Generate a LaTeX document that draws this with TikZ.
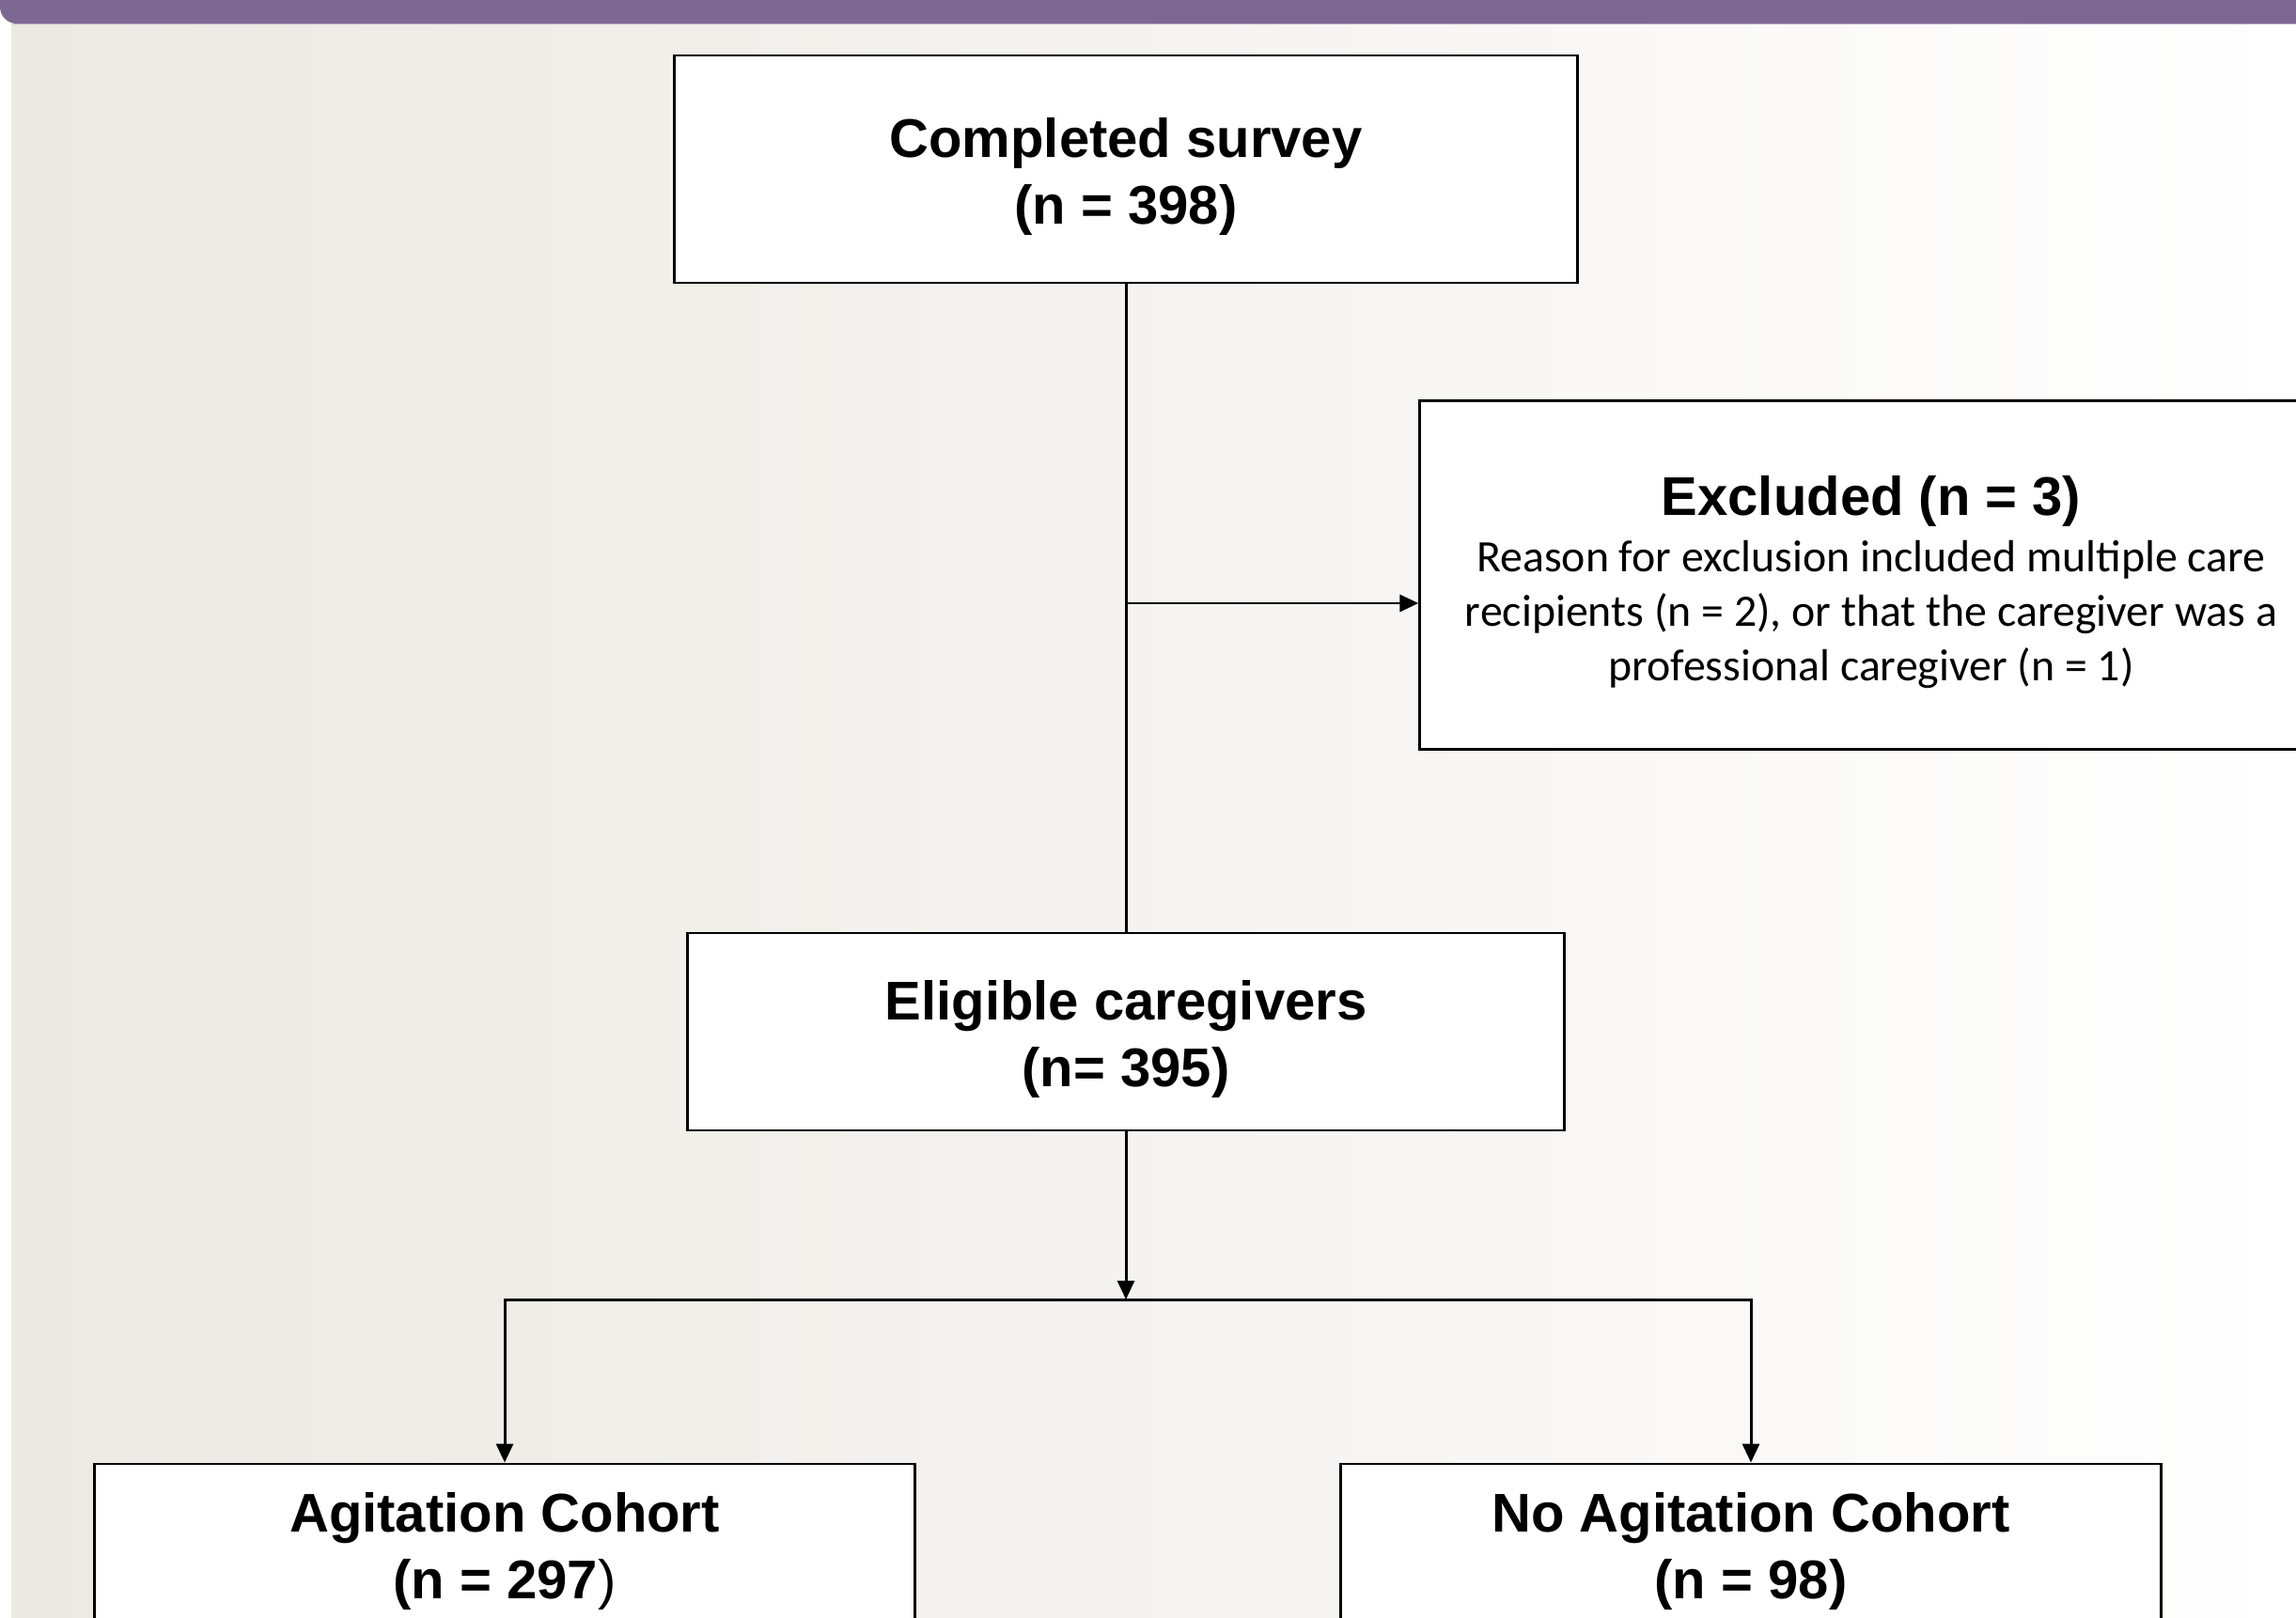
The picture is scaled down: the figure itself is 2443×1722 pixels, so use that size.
\documentclass[tikz,border=0pt]{standalone}
\usepackage{fontspec}
\setmainfont{Liberation Sans}
\newfontfamily\bodyfont{Carlito}
\usetikzlibrary{arrows.meta,positioning}
\tikzset{>={Triangle[length=2mm,width=1.8mm]}}
\definecolor{barpurple}{RGB}{125,104,145}
\definecolor{barline}{RGB}{184,168,200}
\definecolor{bgleft}{RGB}{236,232,226}
\newcommand{\headstrut}[1][16.5pt]{\rule{0pt}{#1}}
\newcommand{\reasonline}[1]{{\bodyfont\mdseries\fontsize{13.6}{16.4}\selectfont #1}}
\tikzset{
    stagebox/.style={draw=black,line width=0.8pt,fill=white,align=center,inner sep=0pt,
        font=\fontsize{16.5}{20}\selectfont\bfseries},
    link/.style={line width=0.85pt}
}

\begin{document}
\begin{tikzpicture}[x=0.01cm,y=-0.01cm]
    \clip (0,0) rectangle (2443,1722);
    \useasboundingbox (0,0) rectangle (2443,1722);

    \shade[left color=bgleft,right color=white] (12,24) rectangle (2443,1722);
    \fill[barpurple,rounded corners=5pt] (0,-20) rectangle (2470,25);
    \draw[barline,line width=0.5pt] (14,25.5) -- (2443,25.5);

    \node[stagebox,minimum width=9.6cm,minimum height=2.42cm] (survey) at (1198,180)
        {\headstrut Completed survey\\(n = 398)};
    \node[stagebox,minimum width=9.6cm,minimum height=3.7cm] (excl) at (1991,612)
        {\headstrut[16.2pt]Excluded (n = 3)\\[-3.1pt]
         \reasonline{Reason for exclusion included multiple care}\\[-3.5pt]
         \reasonline{recipients (n = 2), or that the caregiver was a}\\[-3.5pt]
         \reasonline{professional caregiver (n = 1)}};
    \node[stagebox,minimum width=9.32cm,minimum height=2.1cm] (elig) at (1198,1098)
        {\headstrut Eligible caregivers\\(n= 395)};
    \node[stagebox,minimum width=8.73cm,minimum height=1.76cm] (agit) at (537,1646)
        {\headstrut[14.7pt]Agitation Cohort\\(n = 297{\mdseries )}};
    \node[stagebox,minimum width=8.73cm,minimum height=1.76cm] (noagit) at (1863,1646)
        {\headstrut[14.7pt]No Agitation Cohort\\(n = 98)};

    \coordinate (split) at (1198,642);
    \coordinate (fork) at (1198,1383);

    \draw[link](survey.south)--(elig.north);
    \draw[link,->](split)--(split -| excl.west);
    \draw[link,->](elig.south)--(fork);
    \draw[link,->](fork)-|(agit.north);
    \draw[link,->](fork)-|(noagit.north);

\end{tikzpicture}
\end{document}
